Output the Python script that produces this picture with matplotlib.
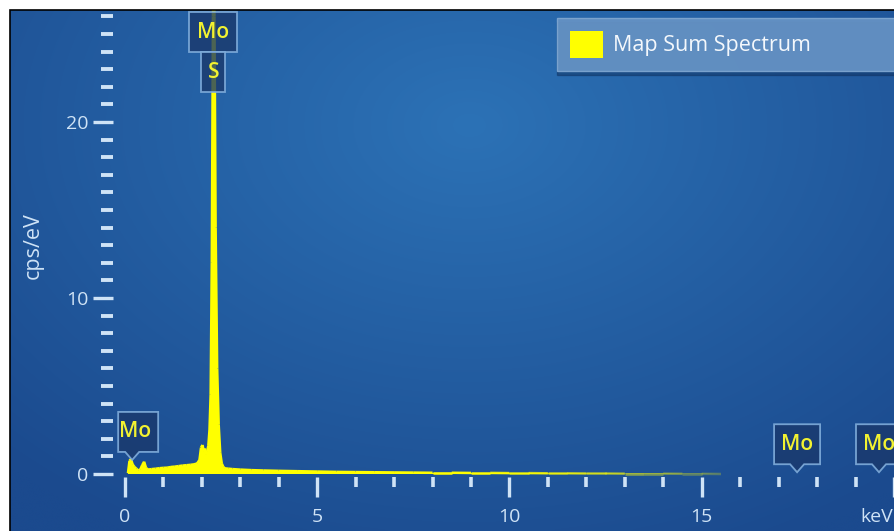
import numpy as np
import matplotlib
matplotlib.use("Agg")
import matplotlib.pyplot as plt
from matplotlib.path import Path
from matplotlib.patches import PathPatch, Rectangle, Patch
from matplotlib.transforms import ScaledTranslation, blended_transform_factory, offset_copy
from matplotlib.collections import LineCollection

# ---------------- data ----------------
energy_kev = [0.08, 0.12, 0.16, 0.20, 0.25, 0.30, 0.35, 0.40, 0.45, 0.50,
              0.55, 0.60, 0.70, 0.80, 0.90, 1.00, 1.10, 1.20, 1.30, 1.40,
              1.50, 1.60, 1.70, 1.80, 1.88, 1.94, 1.98, 2.02, 2.05, 2.08,
              2.11, 2.14, 2.17, 2.20, 2.23, 2.26, 2.29, 2.31, 2.33, 2.36,
              2.40, 2.44, 2.48, 2.52, 2.56, 2.60, 2.70, 2.80, 3.0, 3.3,
              3.6, 4.0, 4.5, 5.0, 5.5, 6.0, 6.5, 7.0, 7.5, 8.0,
              8.5, 9.0, 9.5, 10.0, 10.5, 11.0, 11.5, 12.0, 12.5, 13.0,
              13.5, 14.0, 14.5, 15.0, 15.5]
cps_per_ev = [0.05, 0.75, 0.85, 0.55, 0.40, 0.30, 0.20, 0.25, 0.50, 0.70,
              0.35, 0.25, 0.28, 0.30, 0.33, 0.35, 0.36, 0.40, 0.42, 0.45,
              0.48, 0.50, 0.52, 0.55, 0.60, 0.80, 1.50, 1.65, 1.30, 1.45,
              1.10, 1.30, 1.60, 2.50, 4.50, 12.0, 26.0, 31.0, 26.0, 14.0,
              6.0, 2.8, 1.2, 0.6, 0.4, 0.32, 0.30, 0.28, 0.25, 0.22,
              0.20, 0.18, 0.16, 0.14, 0.12, 0.11, 0.10, 0.09, 0.08, 0.07,
              0.07, 0.06, 0.06, 0.05, 0.05, 0.04, 0.04, 0.03, 0.03, 0.02,
              0.02, 0.02, 0.01, 0.01, 0.0]
series_name = "Map Sum Spectrum"

# element markers (label, energy keV)
peak_labels = [("Mo", 2.30), ("S", 2.30)]
callout_labels = [("Mo", 0.19), ("Mo", 17.48), ("Mo", 19.61)]

x_major = [0, 5, 10, 15, 20]
x_labels = ["0", "5", "10", "15", "keV"]
y_major = [0, 10, 20]
y_labels = ["0", "10", "20"]
y_title = "cps/eV"

# ---------------- figure ----------------
W, H, DPI = 894, 531, 100
fig = plt.figure(figsize=(W / DPI, H / DPI), dpi=DPI, facecolor="white")
ax = fig.add_axes([10 / W, 0, (W - 10) / W, (H - 10) / H])

# limits from pixel calibration: x px = 125 + 38.5*E ; y px = 474 - 17.6*v
px_per_kev, x0_px = 38.5, 125
px_per_cps, y0_px = 17.6, 474
ax.set_xlim((10 - x0_px) / px_per_kev, (W - x0_px) / px_per_kev)
ax.set_ylim((y0_px - H) / px_per_cps, (y0_px - 10) / px_per_cps)

# background gradient
ny, nx = 200, 300
gx, gy = np.meshgrid(np.linspace(0, 1, nx), np.linspace(0, 1, ny))
r = np.sqrt(((gx - 0.52) / 0.75) ** 2 + ((gy - 0.78) / 0.9) ** 2)
r = np.clip(r, 0, 1)
c_in = np.array([44, 114, 182]) / 255
c_out = np.array([27, 74, 142]) / 255
img = c_in[None, None, :] * (1 - r[..., None]) + c_out[None, None, :] * r[..., None]
ax.imshow(img, extent=(0, 1, 0, 1), transform=ax.transAxes, aspect="auto",
          origin="lower", zorder=0, interpolation="bicubic")

tick_col = "#cfe3f6"
yellow = "#ffff00"

# spectrum
E = np.array(energy_kev)
C = np.array(cps_per_ev)
ax.fill_between(E, 0, C, color=yellow, lw=0, zorder=3, label=series_name)
pts = np.column_stack([E, C])
segs = np.stack([pts[:-1], pts[1:]], axis=1)
mid = 0.5 * (E[:-1] + E[1:])
alpha = np.clip(1 - (mid - 9.0) / 8.0, 0.25, 1.0)
cols = np.zeros((len(mid), 4))
cols[:, 0] = 1.0
cols[:, 1] = 1.0
cols[:, 2] = 0.0
cols[:, 3] = alpha
ax.add_collection(LineCollection(segs, colors=cols, linewidths=1.8, zorder=4))

# axes / ticks
for s in ["top", "right", "left", "bottom"]:
    ax.spines[s].set_visible(False)
ax.spines["left"].set_position(("data", (113 - x0_px) / px_per_kev))
ax.spines["bottom"].set_position(("data", (y0_px - 477) / px_per_cps))

ax.set_xticks(x_major)
ax.set_xticklabels(x_labels)
ax.set_xticks(np.arange(0, 21, 1), minor=True)
ax.set_yticks(y_major)
ax.set_yticklabels(y_labels)
ax.set_yticks(np.arange(0, 27, 1), minor=True)

ax.tick_params(axis="x", which="major", direction="out", length=14.4, width=2.4,
               color=tick_col, labelcolor=tick_col, labelsize=14, pad=8)
ax.tick_params(axis="x", which="minor", direction="out", length=7.2, width=2.6,
               color=tick_col)
ax.tick_params(axis="y", which="major", direction="out", length=14.4, width=2.4,
               color=tick_col, labelcolor=tick_col, labelsize=14, pad=3)
ax.tick_params(axis="y", which="minor", direction="out", length=8.6, width=2.8,
               color=tick_col)
for lab in ax.get_xticklabels() + ax.get_yticklabels():
    lab.set_fontfamily("Open Sans")
# the last x label ("keV") sits left of its tick so it stays inside the canvas
kev_lab = ax.get_xticklabels()[-1]
kev_lab.set_transform(offset_copy(kev_lab.get_transform(), fig=fig, x=-17, y=0, units="dots"))

fig.text(33 / W, 1 - 246 / H, y_title, rotation=90, ha="center", va="center",
         color=tick_col, fontsize=15.5, family="Open Sans")

# element label boxes
box_fc = (0.10, 0.22, 0.42, 0.78)
box_ec = (0.50, 0.68, 0.86, 0.9)
lab_col = "#f2f230"


def draw_path(verts, trans):
    codes = [Path.MOVETO] + [Path.LINETO] * (len(verts) - 1) + [Path.CLOSEPOLY]
    verts = list(verts) + [verts[0]]
    ax.add_patch(PathPatch(Path(verts, codes), transform=trans, fc=box_fc,
                           ec=box_ec, lw=1.3, zorder=6, clip_on=False))


# stacked labels at the main peak (anchored at top of axes)
top_trans_base = blended_transform_factory(ax.transData, ax.transAxes)
stack = [(-0.24, 0.24, -0.02, -0.42), (-0.12, 0.12, -0.42, -0.82)]
for (name, en), (xl, xr, yt, yb) in zip(peak_labels, stack):
    tr = fig.dpi_scale_trans + ScaledTranslation(en, 1.0, top_trans_base)
    draw_path([(xl, yb), (xr, yb), (xr, yt), (xl, yt)], tr)
    ax.text(0.5 * (xl + xr), 0.5 * (yt + yb), name, transform=tr, ha="center",
            va="center", color=lab_col, fontsize=15, fontweight="semibold",
            family="Open Sans", zorder=7)

# callouts with pointer
tip_vals = [0.8, 0.1, 0.1]
bw, bh, ph, pw = 0.46, 0.40, 0.08, 0.07
for (name, en), tv in zip(callout_labels, tip_vals):
    dx = 0.06 if en < 1 else 0.0
    bwi = 0.40 if en < 1 else bw
    tr = fig.dpi_scale_trans + ScaledTranslation(en, tv, ax.transData)
    xl, xr = dx - bwi / 2, dx + bwi / 2
    verts = [(xl, ph), (-pw, ph), (0, 0), (pw, ph), (xr, ph), (xr, ph + bh), (xl, ph + bh)]
    draw_path(verts, tr)
    ax.text(dx - (0.03 if en < 1 else 0), ph + bh / 2, name, transform=tr, ha="center",
            va="center", color=lab_col, fontsize=15, fontweight="semibold",
            family="Open Sans", zorder=7)

# legend
leg = ax.legend(handles=[Patch(facecolor=yellow, edgecolor="none", label=series_name)],
                loc="upper left", bbox_to_anchor=((557 - 10) / (W - 10), (H - 18) / (H - 10),
                                                  0.42, 0),
                mode="expand", frameon=True, fancybox=False,
                handlelength=1.55, handleheight=1.55, borderaxespad=0, borderpad=0.6,
                handletextpad=0.45, prop={"family": "Open Sans", "size": 15.5},
                shadow={"ox": 0, "oy": -3, "color": "#0d2c58", "alpha": 0.45})
fr = leg.get_frame()
fr.set_facecolor("#6592c4")
fr.set_alpha(0.95)
fr.set_edgecolor("#7ea6d0")
fr.set_linewidth(1.0)
for t in leg.get_texts():
    t.set_color("#f4f8fc")
leg.set_zorder(8)

# frame border (black line top/left)
fig.add_artist(Rectangle((10 / W, -0.01), 1.0, (H - 10) / H + 0.01, transform=fig.transFigure,
                         fill=False, ec="black", lw=1.2, zorder=10))

fig.savefig("out.png", dpi=DPI, facecolor="white")
